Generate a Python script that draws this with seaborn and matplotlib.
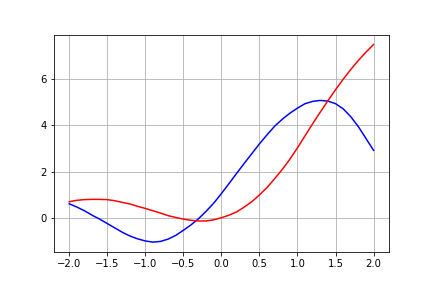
import matplotlib
matplotlib.use("Agg")
import matplotlib.pyplot as plt
import seaborn as sns
import pandas as pd

x_vals = [-2.0, -1.9, -1.8, -1.7, -1.6, -1.5, -1.4, -1.3, -1.2, -1.1, -1.0,
          -0.9, -0.8, -0.7, -0.6, -0.5, -0.4, -0.3, -0.2, -0.1, 0.0,
          0.1, 0.2, 0.3, 0.4, 0.5, 0.6, 0.7, 0.8, 0.9, 1.0,
          1.1, 1.2, 1.3, 1.4, 1.5, 1.6, 1.7, 1.8, 1.9, 2.0]

blue_vals = [0.62, 0.48, 0.32, 0.13, -0.04, -0.23, -0.42, -0.61, -0.77, -0.89, -0.98,
             -1.03, -1.00, -0.90, -0.74, -0.52, -0.29, -0.02, 0.30, 0.65, 1.06,
             1.49, 1.93, 2.36, 2.78, 3.20, 3.59, 3.96, 4.26, 4.52, 4.74,
             4.93, 5.03, 5.07, 5.04, 4.93, 4.71, 4.37, 3.94, 3.43, 2.92]

red_vals = [0.71, 0.77, 0.80, 0.81, 0.81, 0.80, 0.75, 0.68, 0.61, 0.51, 0.42,
            0.32, 0.22, 0.11, 0.03, -0.04, -0.09, -0.12, -0.12, -0.07, 0.02,
            0.13, 0.27, 0.48, 0.71, 1.00, 1.32, 1.70, 2.10, 2.54, 3.03,
            3.55, 4.07, 4.57, 5.06, 5.53, 5.98, 6.40, 6.79, 7.15, 7.48]

df = pd.DataFrame({"x": x_vals, "blue": blue_vals, "red": red_vals})

fig, ax = plt.subplots(figsize=(6, 4), dpi=72)
fig.subplots_adjust(left=0.125, right=0.9, bottom=0.125, top=0.88)
sns.lineplot(data=df, x="x", y="blue", color="blue", ax=ax)
sns.lineplot(data=df, x="x", y="red", color="red", ax=ax)
ax.set_xlabel("")
ax.set_ylabel("")
ax.set_xticks([-2.0, -1.5, -1.0, -0.5, 0.0, 0.5, 1.0, 1.5, 2.0])
ax.set_yticks([0, 2, 4, 6])
ax.grid(True)
fig.savefig("out.png", dpi=72)
